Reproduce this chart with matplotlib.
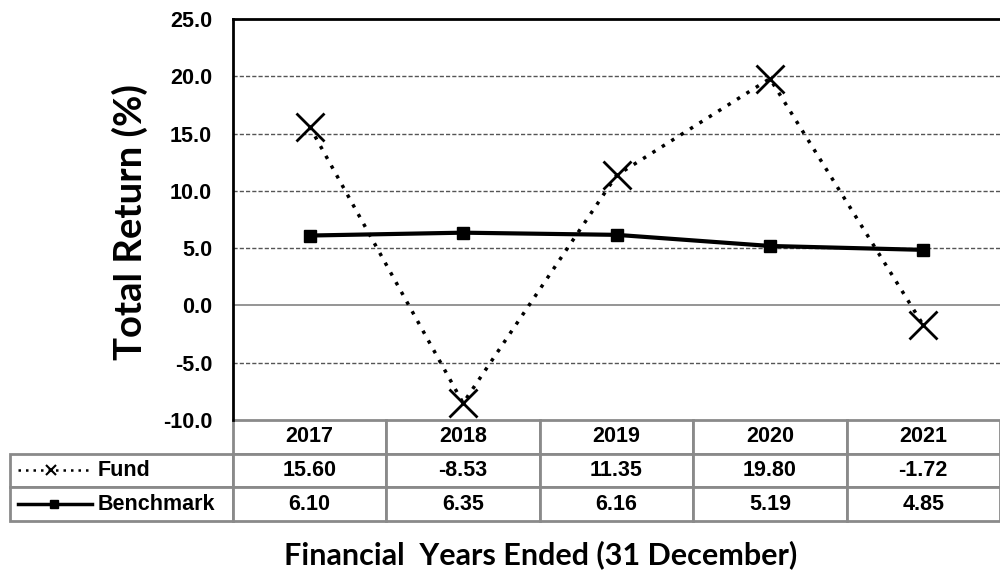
import matplotlib
matplotlib.use("Agg")
import matplotlib.pyplot as plt
from matplotlib.lines import Line2D

years = ["2017", "2018", "2019", "2020", "2021"]
fund = [15.60, -8.53, 11.35, 19.80, -1.72]
benchmark = [6.10, 6.35, 6.16, 5.19, 4.85]
fund_labels = ["15.60", "-8.53", "11.35", "19.80", "-1.72"]
bench_labels = ["6.10", "6.35", "6.16", "5.19", "4.85"]
yticks = [-10, -5, 0, 5, 10, 15, 20, 25]

W, H = 1000, 573
fig = plt.figure(figsize=(W / 100, H / 100), dpi=100)
ax_l, ax_r, ax_t, ax_b = 233, 1000, 19, 420
ax = fig.add_axes([ax_l / W, (H - ax_b) / H, (ax_r - ax_l) / W, (ax_b - ax_t) / H])

x = list(range(len(years)))
ax.set_xlim(-0.5, len(years) - 0.5)
ax.set_ylim(-10, 25)

for v in yticks:
    if v == 0:
        ax.axhline(v, color="#8c8c8c", lw=1.3, zorder=1)
    elif -10 < v < 25:
        ax.axhline(v, color="#555555", lw=1.0, ls=(0, (3, 1.5)), zorder=1)

ax.plot(x, benchmark, color="black", lw=3, marker="s", ms=9, zorder=3)
ax.plot(x, fund, color="black", lw=2.5, ls=(0, (1, 2.2)), marker="x", ms=20, mew=2, zorder=4)

FS = 15.5
ax.set_yticks(yticks)
ax.set_yticklabels([f"{v:.1f}" for v in yticks], fontfamily="Liberation Sans",
                   fontweight="bold", fontsize=FS)
ax.tick_params(axis="y", length=0, pad=15)
ax.set_xticks([])
ax.spines["right"].set_visible(False)
ax.spines["bottom"].set_visible(False)
ax.spines["left"].set_linewidth(2)
ax.spines["top"].set_linewidth(2)

# table
ax_w = ax_r - ax_l
ax_h = ax_b - ax_t
tbl_left, tbl_bottom = 10, 521
label_w = ax_l - tbl_left
col_w = ax_w / len(years)
cell_text = [[""] + years, [""] + fund_labels, [""] + bench_labels]
tbl = ax.table(cellText=cell_text,
               colWidths=[label_w / ax_w] + [col_w / ax_w] * len(years),
               bbox=[(tbl_left - ax_l) / ax_w, -(tbl_bottom - ax_b) / ax_h,
                     (ax_r - tbl_left) / ax_w, (tbl_bottom - ax_b) / ax_h],
               cellLoc="center")
tbl.auto_set_font_size(False)
for (r, c), cell in tbl.get_celld().items():
    cell.set_edgecolor("#8a8a8a")
    cell.set_linewidth(2)
    cell.get_text().set_fontfamily("Liberation Sans")
    cell.get_text().set_fontweight("bold")
    cell.get_text().set_fontsize(FS)
    if r == 0 and c == 0:
        cell.visible_edges = ""
for cell in [tbl[1, 0], tbl[2, 0]]:
    cell.set_clip_on(False)

# legend samples in label column
def px2ax(px, py):
    return (px - ax_l) / ax_w, (ax_b - py) / ax_h

row_y = [470, 504]
x0, _ = px2ax(18, 0)
x1, _ = px2ax(88, 0)
xm, y1 = px2ax(51, row_y[0])
ax.add_line(Line2D([x0, x1], [y1, y1], transform=ax.transAxes, color="black", lw=1.8,
                   ls=(0, (1, 2)), clip_on=False))
ax.add_line(Line2D([xm], [y1], transform=ax.transAxes, color="black", marker="x", ms=7,
                   mew=1.5, clip_on=False))
x1b, _ = px2ax(92, 0)
xmb, y2 = px2ax(54, row_y[1])
ax.add_line(Line2D([x0, x1b], [y2, y2], transform=ax.transAxes, color="black", lw=2.5,
                   marker=None, clip_on=False))
ax.add_line(Line2D([xmb], [y2], transform=ax.transAxes, color="black", marker="s", ms=6,
                   clip_on=False))
tx, _ = px2ax(98, 0)
ax.text(tx, y1, "Fund", transform=ax.transAxes, ha="left", va="center",
        fontfamily="Liberation Sans", fontweight="bold", fontsize=FS)
ax.text(tx, y2, "Benchmark", transform=ax.transAxes, ha="left", va="center",
        fontfamily="Liberation Sans", fontweight="bold", fontsize=FS)

fig.text(130 / W, 1 - 222 / H, "Total Return (%)", rotation=90, ha="center", va="center",
         fontfamily="Lato", fontweight="bold", fontsize=27.5)
fig.text(541 / W, 1 - 555 / H, "Financial  Years Ended (31 December)", ha="center",
         va="center", fontfamily="Lato", fontweight="bold", fontsize=22)

fig.savefig("out.png", dpi=100)
